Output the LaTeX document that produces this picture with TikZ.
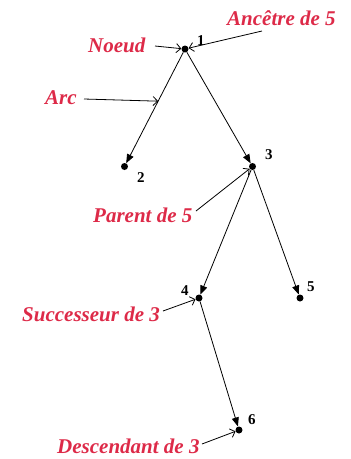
\documentclass[tikz,border=0pt]{standalone}
\usepackage{fontspec}
\setmainfont{Liberation Serif}
\usetikzlibrary{arrows.meta,calc}
\definecolor{lblred}{RGB}{221,42,72}
\begin{document}
\begin{tikzpicture}[x=1pt,y=-1pt,
  dot/.style={circle,fill=black,inner sep=0pt,minimum size=7pt},
  num/.style={anchor=base west,inner sep=0pt,font=\fontsize{15}{18}\selectfont\bfseries},
  lbl/.style={anchor=base west,inner sep=0pt,text=lblred,font=\fontsize{21}{25}\selectfont\bfseries\itshape},
  edge/.style={line width=0.8pt,-{Triangle[length=9pt,width=7pt]}},
  pointer/.style={line width=0.8pt,-{Straight Barb[length=4.5pt,width=9pt]}}]
\useasboundingbox (0,0) rectangle (351,459);
% tree nodes
\node[dot] (n1) at (185,49) {};
\node[dot] (n2) at (124.5,166.5) {};
\node[dot] (n3) at (252.5,166.5) {};
\node[dot] (n4) at (199,298) {};
\node[dot] (n5) at (300,298) {};
\node[dot] (n6) at (239,430) {};
% numbers
\node[num] (t1) at (197,45) {1};
\node[num] (t2) at (137,182) {2};
\node[num] (t3) at (265,159) {3};
\node[num] (t4) at (181,295) {4};
\node[num] (t5) at (307,291) {5};
\node[num] (t6) at (248,424) {6};
% edges
\draw[edge] (n1) -- (n2);
\draw[edge] (n1) -- (n3);
\draw[edge] (n3) -- (n4);
\draw[edge] (n3) -- (n5);
\draw[edge] (n4) -- (n6);
% labels
\node[lbl] (anc) at (227,25) {Ancêtre de 5};
\node[lbl] (noeud) at (88,52) {Noeud};
\node[lbl] (arc) at (45,104) {Arc};
\node[lbl] (par) at (93,222) {Parent de 5};
\node[lbl] (succ) at (22,321) {Successeur de 3};
\node[lbl] (desc) at (57,453) {Descendant de 3};
% pointer anchors
\coordinate (pa) at (262,31);
\coordinate (pn) at (155,46);
\coordinate (pr) at (84,99);
\coordinate (parc) at ($(n1)!0.444!(n2)$);
\coordinate (pp) at (196,211);
\coordinate (ps) at (163,311);
\coordinate (pd) at (202,444);
\draw[pointer] (pa) -- (n1);
\draw[pointer] (pn) -- (n1);
\draw[pointer] (pr) -- (parc);
\draw[pointer] (pp) -- (n3);
\draw[pointer] (ps) -- (n4);
\draw[pointer] (pd) -- (n6);
\end{tikzpicture}
\end{document}
